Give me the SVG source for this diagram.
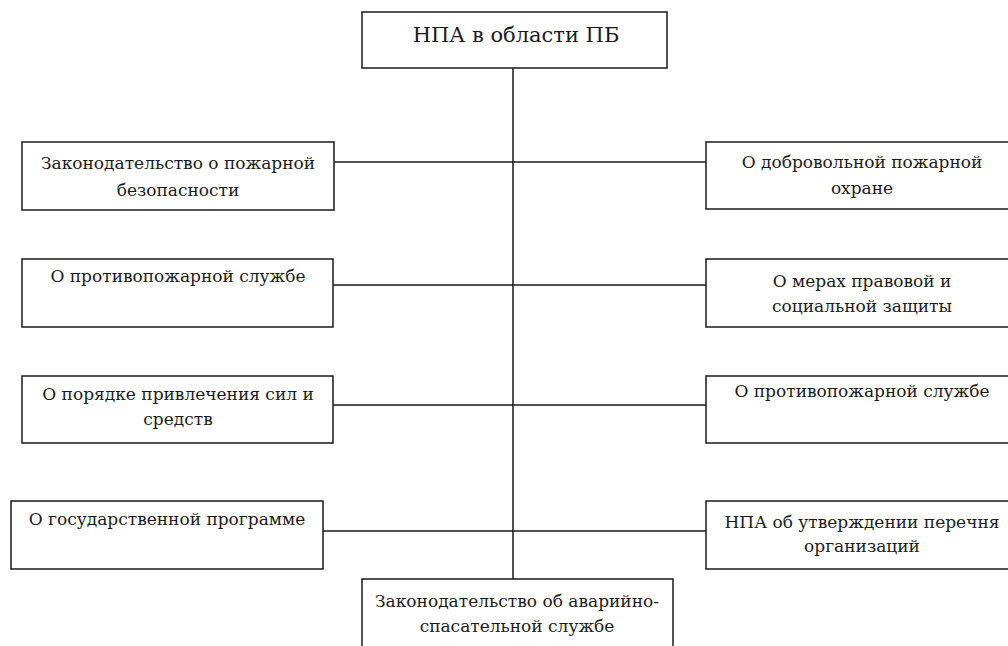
<svg xmlns="http://www.w3.org/2000/svg" width="1008" height="646" viewBox="0 0 1008 646">
<style>
.box{fill:#fff;stroke:#1a1a1a;stroke-width:1.5}
.ln{stroke:#1a1a1a;stroke-width:1.5;fill:none}
.t{font-size:17px;fill:#1a1a1a;text-anchor:middle}
.title{font-size:21px}
</style>
<rect width="1008" height="646" fill="#fff"/>
<g id="connectors">
<line class="ln" x1="513" y1="68" x2="513" y2="579"/>
<line class="ln" x1="334" y1="162" x2="706" y2="162"/>
<line class="ln" x1="333" y1="285" x2="706" y2="285"/>
<line class="ln" x1="333" y1="405" x2="706" y2="405"/>
<line class="ln" x1="323" y1="531" x2="706" y2="531"/>
</g>
<g font-family="DejaVu Serif, serif">
<g id="n0"><rect class="box" x="362" y="12" width="305" height="56"/><text class="t title" x="516" y="42">НПА в области ПБ</text></g>
<g id="n1"><rect class="box" x="22" y="142" width="312" height="68"/><text class="t" x="178" y="169">Законодательство о пожарной</text><text class="t" x="178" y="196">безопасности</text></g>
<g id="n2"><rect class="box" x="706" y="142" width="316" height="67"/><text class="t" x="862" y="168">О добровольной пожарной</text><text class="t" x="862" y="194">охране</text></g>
<g id="n3"><rect class="box" x="22" y="259" width="311" height="68"/><text class="t" x="178" y="282">О противопожарной службе</text></g>
<g id="n4"><rect class="box" x="706" y="259" width="316" height="68"/><text class="t" x="862" y="287">О мерах правовой и</text><text class="t" x="862" y="312">социальной защиты</text></g>
<g id="n5"><rect class="box" x="22" y="376" width="311" height="67"/><text class="t" x="178" y="400">О порядке привлечения сил и</text><text class="t" x="178" y="425">средств</text></g>
<g id="n6"><rect class="box" x="706" y="376" width="316" height="67"/><text class="t" x="862" y="397">О противопожарной службе</text></g>
<g id="n7"><rect class="box" x="11" y="501" width="312" height="68"/><text class="t" x="167" y="525">О государственной программе</text></g>
<g id="n8"><rect class="box" x="706" y="501" width="316" height="68"/><text class="t" x="862" y="528">НПА об утверждении перечня</text><text class="t" x="862" y="552">организаций</text></g>
<g id="n9"><rect class="box" x="362" y="579" width="311" height="80"/><text class="t" x="517" y="607">Законодательство об аварийно-</text><text class="t" x="517" y="632">спасательной службе</text></g>
</g>
</svg>
